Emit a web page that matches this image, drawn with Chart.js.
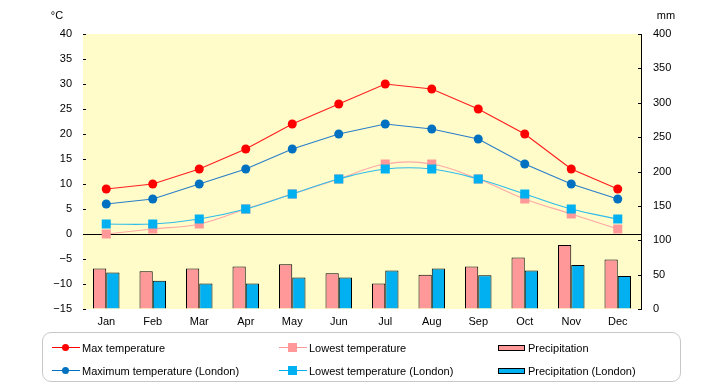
<!DOCTYPE html>
<html>
<head>
<meta charset="utf-8">
<script src="https://cdn.jsdelivr.net/npm/chart.js@4/dist/chart.umd.min.js"></script>
<style>
  html, body { margin: 0; padding: 0; background: #fff; }
  #wrap { position: relative; width: 720px; height: 385px; }
  #legend {
    position: absolute; left: 42px; top: 332px; width: 639px; height: 50px;
    border: 1px solid #c8c8c8; border-radius: 9px; box-sizing: border-box;
    font-family: "Liberation Sans", Arial, sans-serif; font-size: 11px; color: #000;
  }
  .item { position: absolute; height: 14px; line-height: 14px; white-space: nowrap; }
  .line { position: absolute; top: 6px; width: 28px; height: 1px; }
  .dot { position: absolute; left: 10px; top: -3px; width: 7px; height: 7px; border-radius: 50%; }
  .sq { position: absolute; left: 9px; top: -4px; width: 9px; height: 9px; }
  .box { position: absolute; top: 4px; width: 25px; height: 4px; border: 1px solid #000; }
  .lbl { position: absolute; left: 30px; top: 0; }
</style>
</head>
<body>
<div id="wrap">
  <canvas id="chart" width="720" height="385"></canvas>
  <div id="legend"></div>
</div>
<script>
document.addEventListener("DOMContentLoaded", function () {
  var months = ['Jan', 'Feb', 'Mar', 'Apr', 'May', 'Jun', 'Jul', 'Aug', 'Sep', 'Oct', 'Nov', 'Dec'];
  var maxTemp = [9, 10, 13, 17, 22, 26, 30, 29, 25, 20, 13, 9];
  var lowTemp = [0, 1, 2, 5, 8, 11, 14, 14, 11, 7, 4, 1];
  var precip = [59, 55, 59, 62, 65, 52, 37, 50, 62, 75, 93, 72];
  var londonMax = [6, 7, 10, 13, 17, 20, 22, 21, 19, 14, 10, 7];
  var londonLow = [2, 2, 3, 5, 8, 11, 13, 13, 11, 8, 5, 3];
  var londonPrecip = [53, 41, 37, 37, 46, 46, 56, 59, 49, 56, 64, 48];

  var fontFamily = '"Liberation Sans", Arial, sans-serif';

  // yellow plot background, zero line, inner ticks and unit labels
  var decor = {
    id: 'decor',
    beforeDatasetsDraw: function (chart) {
      var ctx = chart.ctx, a = chart.chartArea;
      ctx.save();
      ctx.fillStyle = '#fffcc9';
      ctx.fillRect(a.left, a.top, a.right - a.left, a.bottom - a.top);
      var y0 = Math.round(chart.scales.y.getPixelForValue(0)) + 0.5;
      ctx.strokeStyle = '#000';
      ctx.lineWidth = 1;
      ctx.beginPath();
      ctx.moveTo(a.left, y0);
      ctx.lineTo(a.right, y0);
      ctx.stroke();
      // inner tick marks
      ['y', 'y2'].forEach(function (id) {
        var s = chart.scales[id];
        s.ticks.forEach(function (t) {
          var p = Math.round(s.getPixelForValue(t.value)) + 0.5;
          ctx.beginPath();
          if (id === 'y') { ctx.moveTo(a.left, p); ctx.lineTo(a.left + 3, p); }
          else { ctx.moveTo(a.right, p); ctx.lineTo(a.right - 3, p); }
          ctx.stroke();
        });
      });
      ctx.fillStyle = '#000';
      ctx.font = '11px ' + fontFamily;
      ctx.textAlign = 'center';
      ctx.textBaseline = 'middle';
      ctx.fillText('°C', 57, 16);
      ctx.fillText('mm', 666, 16);
      ctx.restore();
    }
  };

  var ctx = document.getElementById('chart').getContext('2d');
  new Chart(ctx, {
    data: {
      labels: months,
      datasets: [
        { type: 'line', label: 'Max temperature', data: maxTemp, yAxisID: 'y', order: 1,
          borderColor: '#ff2020', backgroundColor: '#ff0000', borderWidth: 1.2,
          pointStyle: 'circle', pointRadius: 4.5, pointBorderWidth: 0, tension: 0 },
        { type: 'line', label: 'Lowest temperature', data: lowTemp, yAxisID: 'y', order: 1,
          borderColor: '#ffa8a8', backgroundColor: '#ff9999', borderWidth: 1.2,
          pointStyle: 'rect', pointRadius: 6.4, pointBorderWidth: 0, tension: 0.4 },
        { type: 'line', label: 'Maximum temperature (London)', data: londonMax, yAxisID: 'y', order: 1,
          borderColor: '#2a7fc8', backgroundColor: '#0070c0', borderWidth: 1.2,
          pointStyle: 'circle', pointRadius: 4.5, pointBorderWidth: 0, tension: 0 },
        { type: 'line', label: 'Lowest temperature (London)', data: londonLow, yAxisID: 'y', order: 0,
          borderColor: '#30bcea', backgroundColor: '#00b0f0', borderWidth: 1.2,
          pointStyle: 'rect', pointRadius: 6.4, pointBorderWidth: 0, tension: 0.4 },
        { type: 'bar', label: 'Precipitation', data: precip, yAxisID: 'y2', order: 3,
          backgroundColor: '#ff9999', borderColor: '#000', borderWidth: 1, borderSkipped: 'start',
          barPercentage: 1, categoryPercentage: 0.57 },
        { type: 'bar', label: 'Precipitation (London)', data: londonPrecip, yAxisID: 'y2', order: 3,
          backgroundColor: '#00b0f0', borderColor: '#000', borderWidth: 1, borderSkipped: 'start',
          barPercentage: 1, categoryPercentage: 0.57 }
      ]
    },
    options: {
      responsive: false,
      animation: false,
      layout: { padding: { top: 34, bottom: 52, left: 0, right: 0 } },
      plugins: { legend: { display: false }, tooltip: { enabled: false } },
      scales: {
        x: {
          grid: { display: false, drawTicks: false },
          border: { display: false },
          ticks: { color: '#000', font: { family: fontFamily, size: 11 }, padding: 6, maxRotation: 0 },
          afterFit: function (s) { s.height = 24; }
        },
        y: {
          position: 'left', min: -15, max: 40,
          grid: { drawOnChartArea: false, drawTicks: false },
          border: { display: true, color: '#000', width: 1 },
          ticks: { stepSize: 5, color: '#000', padding: 11, font: { family: fontFamily, size: 11 },
            callback: function (v) { return v < 0 ? '\u2212' + Math.abs(v) : v; } },
          afterFit: function (s) { s.width = 83; }
        },
        y2: {
          position: 'right', min: 0, max: 400,
          grid: { drawOnChartArea: false, drawTicks: false },
          border: { display: true, color: '#000', width: 1 },
          ticks: { stepSize: 50, color: '#000', padding: 12, font: { family: fontFamily, size: 11 } },
          afterFit: function (s) { s.width = 79; }
        }
      }
    },
    plugins: [decor]
  });

  // legend below the chart, three columns by two rows
  var legendItems = [
    { text: 'Max temperature', kind: 'dot', color: '#ff0000', x: 9, y: 8 },
    { text: 'Lowest temperature', kind: 'sq', color: '#ff9999', x: 236, y: 8 },
    { text: 'Precipitation', kind: 'box', color: '#ff9999', x: 455, y: 8 },
    { text: 'Maximum temperature (London)', kind: 'dot', color: '#0070c0', x: 9, y: 31 },
    { text: 'Lowest temperature (London)', kind: 'sq', color: '#00b0f0', x: 236, y: 31 },
    { text: 'Precipitation (London)', kind: 'box', color: '#00b0f0', x: 455, y: 31 }
  ];
  var legend = document.getElementById('legend');
  legendItems.forEach(function (it) {
    var el = document.createElement('div');
    el.className = 'item';
    el.style.left = it.x + 'px';
    el.style.top = it.y + 'px';
    var sample = '';
    if (it.kind === 'box') {
      sample = '<span class="box" style="background:' + it.color + '"></span>';
    } else {
      sample = '<span class="line" style="background:' + it.color + '">' +
        '<span class="' + it.kind + '" style="background:' + it.color + '"></span></span>';
    }
    el.innerHTML = sample + '<span class="lbl">' + it.text + '</span>';
    legend.appendChild(el);
  });
});
</script>
</body>
</html>
